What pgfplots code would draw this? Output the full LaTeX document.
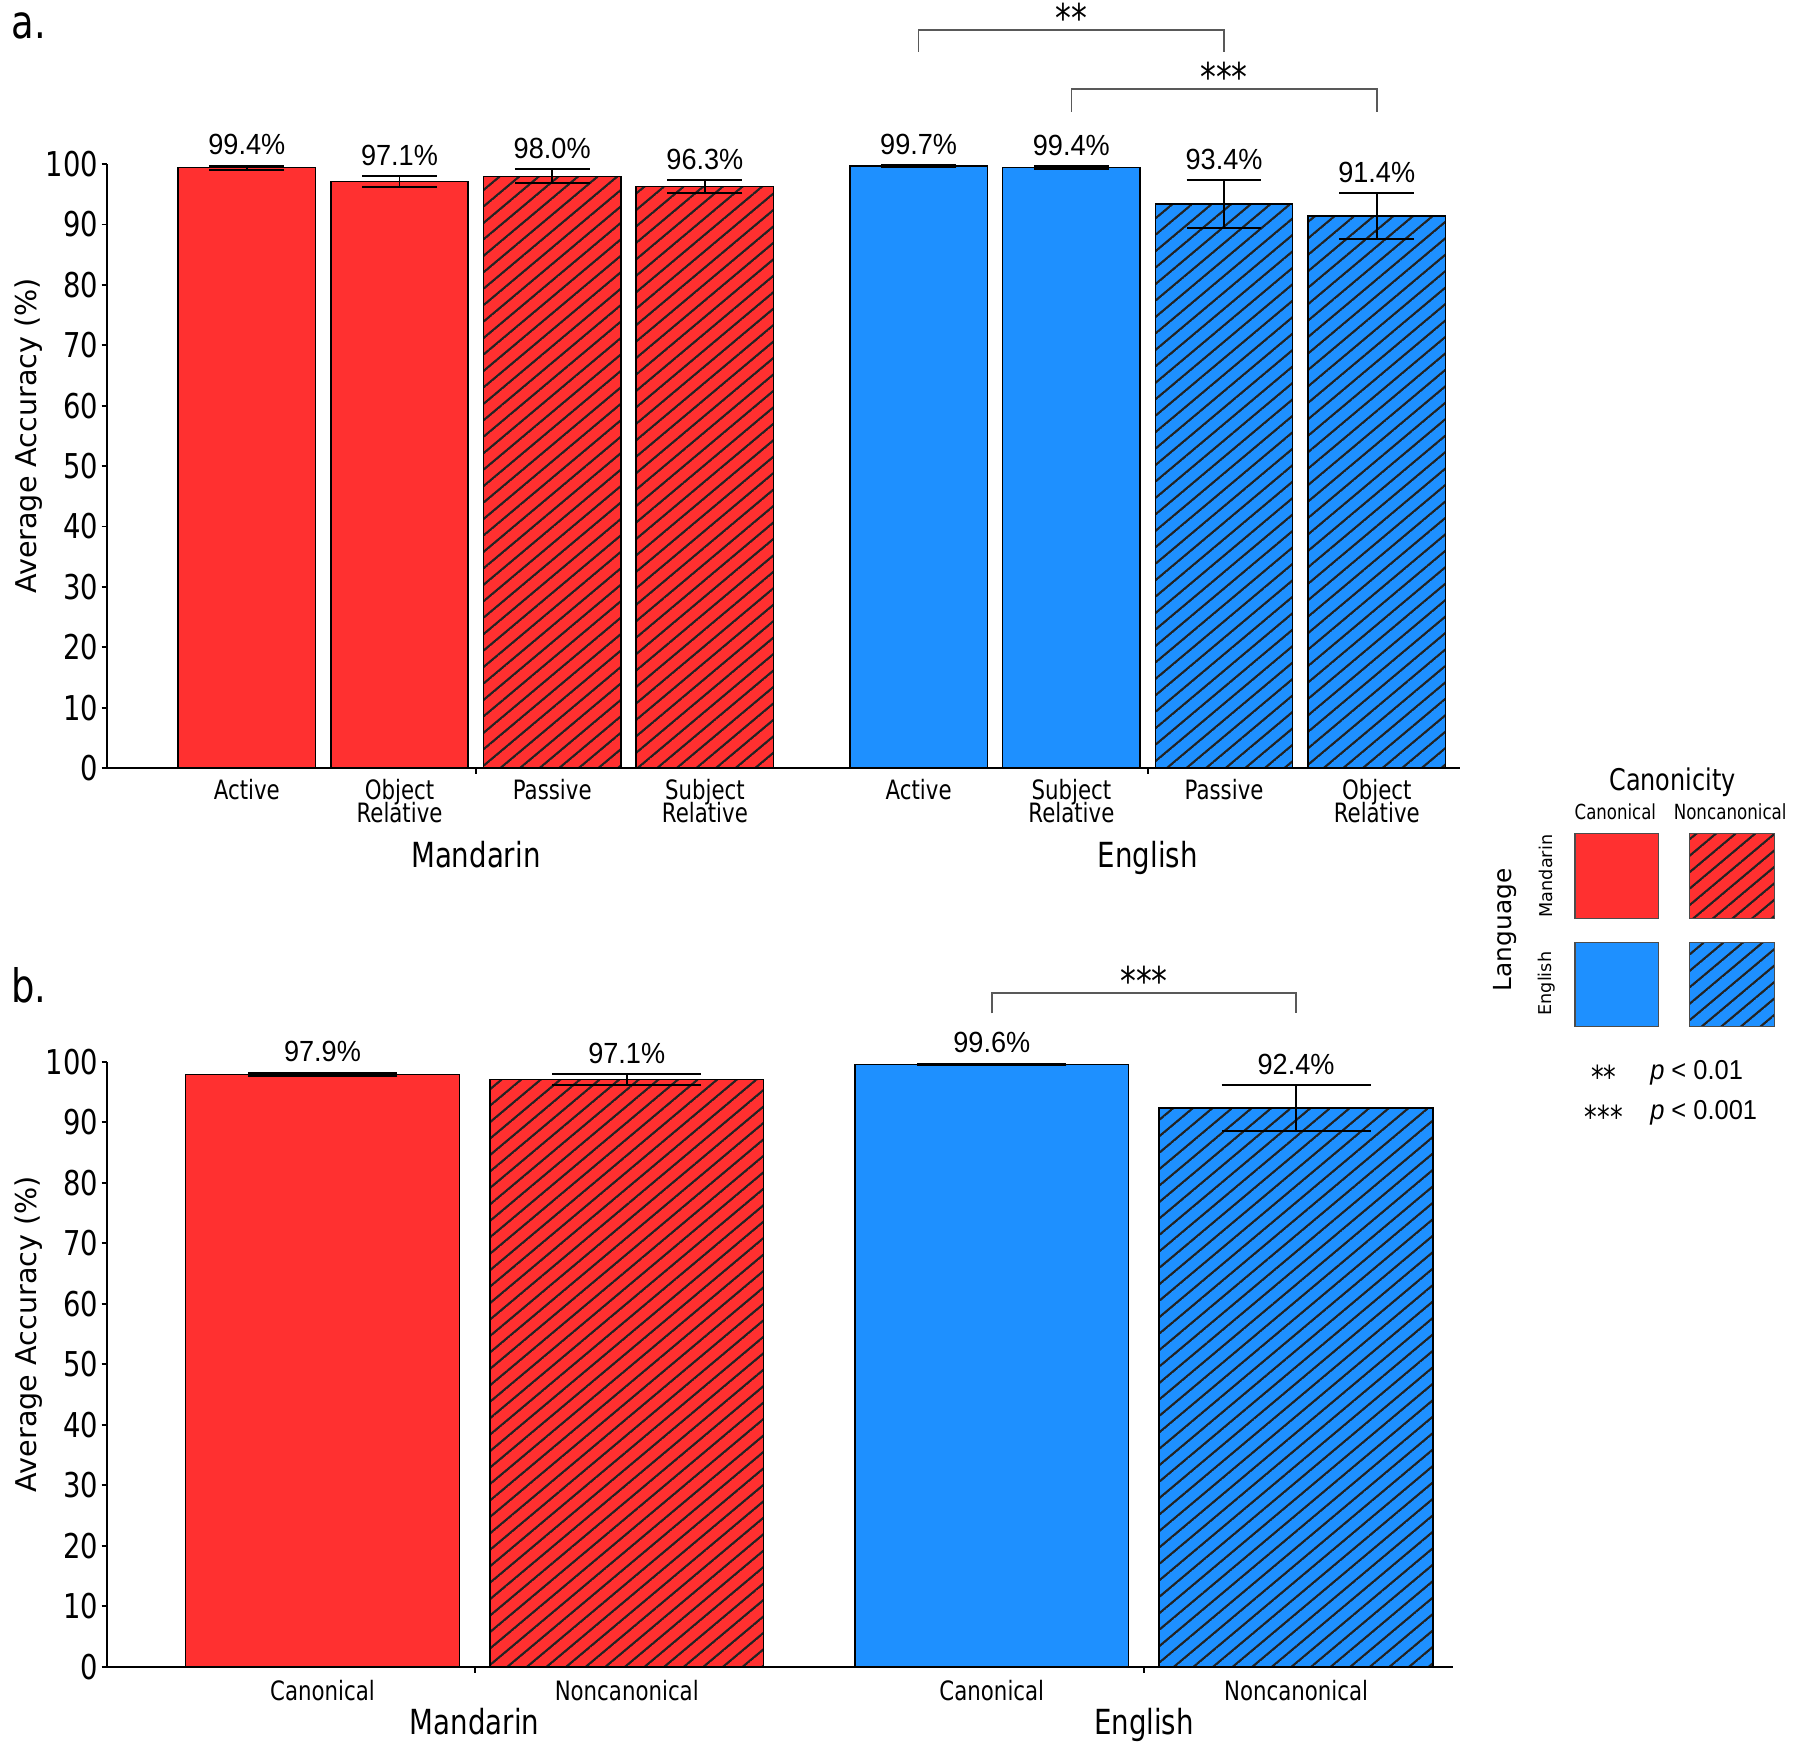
\documentclass[border=0pt]{standalone}
\usepackage{fontspec}
\setmainfont{DejaVu Sans}[FakeStretch=0.8]
\newfontfamily\uprightfont{DejaVu Sans}
\newfontfamily\valfont{Liberation Sans}[FakeStretch=0.93]
\usepackage{pgfplots}
\usepackage{pgfplotstable}
\pgfplotsset{compat=1.18}
\usetikzlibrary{patterns.meta}

\definecolor{mred}{RGB}{255,48,48}
\definecolor{mblue}{RGB}{30,144,255}
\definecolor{hatchc}{RGB}{35,35,35}

% diagonal hatch with adjustable spacing, angle and stroke
\tikzdeclarepattern{
  name=hatch,
  parameters={
    /pgf/pattern keys/size,
    /pgf/pattern keys/angle,
    /pgf/pattern keys/line width,
  },
  bounding box={
    (0,-0.5*\pgfkeysvalueof{/pgf/pattern keys/line width}) and
    (\pgfkeysvalueof{/pgf/pattern keys/size},
     0.5*\pgfkeysvalueof{/pgf/pattern keys/line width})},
  tile size={(\pgfkeysvalueof{/pgf/pattern keys/size},
    \pgfkeysvalueof{/pgf/pattern keys/size})},
  tile transformation={rotate=\pgfkeysvalueof{/pgf/pattern keys/angle}},
  defaults={
    size/.initial=5pt,
    angle/.initial=45,
    line width/.initial=.4pt,
  },
  code={
    \draw [line width=\pgfkeysvalueof{/pgf/pattern keys/line width}]
      (0,0) -- (\pgfkeysvalueof{/pgf/pattern keys/size},0);
  },
}

% ---- panel a: accuracy by sentence type ----
\pgfplotstableread{
x y err
1 99.4 0.35
2 97.1 0.95
}\mandcan
\pgfplotstableread{
x y err
3 98.0 1.2
4 96.3 1.1
}\mandnon
\pgfplotstableread{
x y err
5.4 99.7 0.15
6.4 99.4 0.25
}\engcan
\pgfplotstableread{
x y err
7.4 93.4 4.0
8.4 91.4 3.8
}\engnon

% ---- panel b: accuracy by canonicity ----
\pgfplotstableread{
x y err
1 97.9 0.3
}\bmandcan
\pgfplotstableread{
x y err
2 97.1 0.9
}\bmandnon
\pgfplotstableread{
x y err
3.2 99.6 0.1
}\bengcan
\pgfplotstableread{
x y err
4.2 92.4 3.8
}\bengnon

\tikzset{
  bracket/.style={draw=black!65, line width=0.45pt},
  stars/.style={font=\fontsize{11}{12}\selectfont, anchor=base, inner sep=0pt, yshift=-1.4pt},
}

\pgfplotsset{
  barax/.style={
    scale only axis,
    anchor=south west,
    ymin=0, ymax=100,
    ytick={0,10,...,100},
    axis x line*=bottom, axis y line*=left,
    axis line style={line width=0.5pt, black},
    /pgf/number format/assume math mode=true,
    y tick label style={font=\fontsize{9.5}{10}\selectfont, inner sep=0.8pt},
    tick align=outside,
    major tick length=1.4pt,
    ytick style={black, line width=0.5pt},
    xtick style={draw=none},
    xticklabel style={align=center, font={\fontsize{7.4}{6.4}\selectfont\lineskiplimit=-20pt\lineskip=0pt}, inner sep=0pt},
    ylabel={Average Accuracy (\%)},
    ylabel style={font=\uprightfont\fontsize{7.95}{9}\selectfont, at={(ticklabel cs:0.55,-3.3pt)}},
    clip=false,
  },
  canbar/.style={ybar, bar width=0.9, bar shift=0pt, fill=#1, draw=black, line width=0.4pt},
  nonbar/.style 2 args={ybar, bar width=0.9, bar shift=0pt, draw=black, line width=0.4pt,
    preaction={fill=#1},
    pattern={hatch[size=#2, angle=40, line width=0.6pt]}, pattern color=hatchc},
  errs/.style 2 args={draw=none, mark=none, forget plot,
    error bars/.cd, y dir=both, y explicit,
      error mark=|,
      error bar style={draw=black, line width=0.55pt},
      error mark options={draw=black, line width=0.55pt, mark size=#1},
    /pgfplots/.cd,
    point meta=explicit,
    visualization depends on={\thisrow{err} \as \errv},
    nodes near coords={\pgfmathprintnumber[fixed,fixed zerofill,precision=1,assume math mode=true]{\pgfplotspointmeta}\%},
    every node near coord/.append style={font=\valfont\fontsize{8.1}{9}\selectfont,
      anchor=base, inner sep=0pt, yshift=\errv*#2+3.0pt, text=black},
  },
}

\begin{document}
\begin{tikzpicture}
\useasboundingbox (0,0) rectangle (500pt,485.33pt);

\node[font=\fontsize{12.8}{14}\selectfont, anchor=mid west, inner sep=0pt] at (3.0pt,477.4pt) {a.};
\node[font=\fontsize{12.8}{14}\selectfont, anchor=mid west, inner sep=0pt] at (3.0pt,209.7pt) {b.};

% panel a
\begin{axis}[barax,
  at={(29.66pt,272.0pt)}, width=375.96pt, height=167.73pt,
  xmin=0.083, xmax=8.947,
  xtick={1,2,3,4,5.4,6.4,7.4,8.4},
  xticklabels={Active,{Object\\Relative},Passive,{Subject\\Relative},Active,{Subject\\Relative},Passive,{Object\\Relative}},
  xticklabel style={yshift=-1.6pt},
  extra x ticks={2.5,6.9},
  extra x tick labels={Mandarin,English},
  extra x tick style={xtick style={draw=black, line width=0.5pt}, major tick length=1.6pt,
    xticklabel style={font=\fontsize{9.6}{11}\selectfont, yshift=-17.0pt}},
]
\addplot[canbar=mred] table[x=x,y=y]{\mandcan};
\addplot[nonbar={mred}{3.5pt}] table[x=x,y=y]{\mandnon};
\addplot[canbar=mblue] table[x=x,y=y]{\engcan};
\addplot[nonbar={mblue}{3.5pt}] table[x=x,y=y]{\engnon};

\addplot[errs={10.4pt}{1.6773pt}] table[x=x,y=y,y error=err,meta=y]{\mandcan};
\addplot[errs={10.4pt}{1.6773pt}] table[x=x,y=y,y error=err,meta=y]{\mandnon};
\addplot[errs={10.4pt}{1.6773pt}] table[x=x,y=y,y error=err,meta=y]{\engcan};
\addplot[errs={10.4pt}{1.6773pt}] table[x=x,y=y,y error=err,meta=y]{\engnon};

\draw[bracket] (axis cs:5.4,118.6) |- (axis cs:7.4,122.2) -- (axis cs:7.4,118.6);
\node[stars] at (axis cs:6.4,122.6) {**};
\draw[bracket] (axis cs:6.4,108.7) |- (axis cs:8.4,112.4) -- (axis cs:8.4,108.7);
\node[stars] at (axis cs:7.4,112.8) {***};
\end{axis}

% panel b
\begin{axis}[barax,
  at={(29.66pt,22.32pt)}, width=374.04pt, height=168.05pt,
  xmin=0.291, xmax=4.717,
  xtick={1,2,3.2,4.2},
  xticklabels={Canonical,Noncanonical,Canonical,Noncanonical},
  xticklabel style={yshift=-2.2pt},
  extra x ticks={1.5,3.7},
  extra x tick labels={Mandarin,English},
  extra x tick style={xtick style={draw=black, line width=0.5pt}, major tick length=1.6pt,
    xticklabel style={font=\fontsize{9.6}{11}\selectfont, yshift=-7.6pt}},
]
\addplot[canbar=mred] table[x=x,y=y]{\bmandcan};
\addplot[nonbar={mred}{3.5pt}] table[x=x,y=y]{\bmandnon};
\addplot[canbar=mblue] table[x=x,y=y]{\bengcan};
\addplot[nonbar={mblue}{3.5pt}] table[x=x,y=y]{\bengnon};

\addplot[errs={20.7pt}{1.6805pt}] table[x=x,y=y,y error=err,meta=y]{\bmandcan};
\addplot[errs={20.7pt}{1.6805pt}] table[x=x,y=y,y error=err,meta=y]{\bmandnon};
\addplot[errs={20.7pt}{1.6805pt}] table[x=x,y=y,y error=err,meta=y]{\bengcan};
\addplot[errs={20.7pt}{1.6805pt}] table[x=x,y=y,y error=err,meta=y]{\bengnon};

\draw[bracket] (axis cs:3.2,108.0) |- (axis cs:4.2,111.4) -- (axis cs:4.2,108.0);
\node[stars] at (axis cs:3.7,111.8) {***};
\end{axis}

% key: language by canonicity
\node[font=\fontsize{8.3}{9}\selectfont] at (464.6pt,267.9pt) {Canonicity};
\node[font=\fontsize{5.75}{6}\selectfont] at (448.7pt,259.9pt) {Canonical};
\node[font=\fontsize{5.8}{6}\selectfont] at (480.6pt,259.9pt) {Noncanonical};
\node[rotate=90, font=\uprightfont\fontsize{6.9}{8}\selectfont] at (418.1pt,227.0pt) {Language};
\node[rotate=90, font=\uprightfont\fontsize{4.9}{6}\selectfont] at (429.5pt,242.0pt) {Mandarin};
\node[rotate=90, font=\uprightfont\fontsize{4.9}{6}\selectfont] at (429.5pt,212.1pt) {English};
\filldraw[fill=mred, draw=black!70, line width=0.3pt] (437.5pt,230.2pt) rectangle (460.8pt,253.8pt);
\draw[draw=black!70, line width=0.3pt, preaction={fill=mred},
  pattern={hatch[size=12.2pt, angle=39, line width=1.95pt]}, pattern color=hatchc]
  (469.4pt,230.2pt) rectangle (493.0pt,253.8pt);
\filldraw[fill=mblue, draw=black!70, line width=0.3pt] (437.5pt,200.3pt) rectangle (460.8pt,223.5pt);
\draw[draw=black!70, line width=0.3pt, preaction={fill=mblue},
  pattern={hatch[size=12.2pt, angle=39, line width=1.95pt]}, pattern color=hatchc]
  (469.4pt,200.3pt) rectangle (493.0pt,223.5pt);

\node[font=\fontsize{8.8}{9}\selectfont, anchor=base, inner sep=0pt] at (445.5pt,182.9pt) {**};
\node[font=\valfont\fontsize{7.6}{9}\selectfont, anchor=base west, inner sep=0pt] at (458.2pt,185.4pt) {\textit{p} < 0.01};
\node[font=\fontsize{8.8}{9}\selectfont, anchor=base, inner sep=0pt] at (445.5pt,171.8pt) {***};
\node[font=\valfont\fontsize{7.6}{9}\selectfont, anchor=base west, inner sep=0pt] at (458.2pt,174.3pt) {\textit{p} < 0.001};
\end{tikzpicture}
\end{document}
